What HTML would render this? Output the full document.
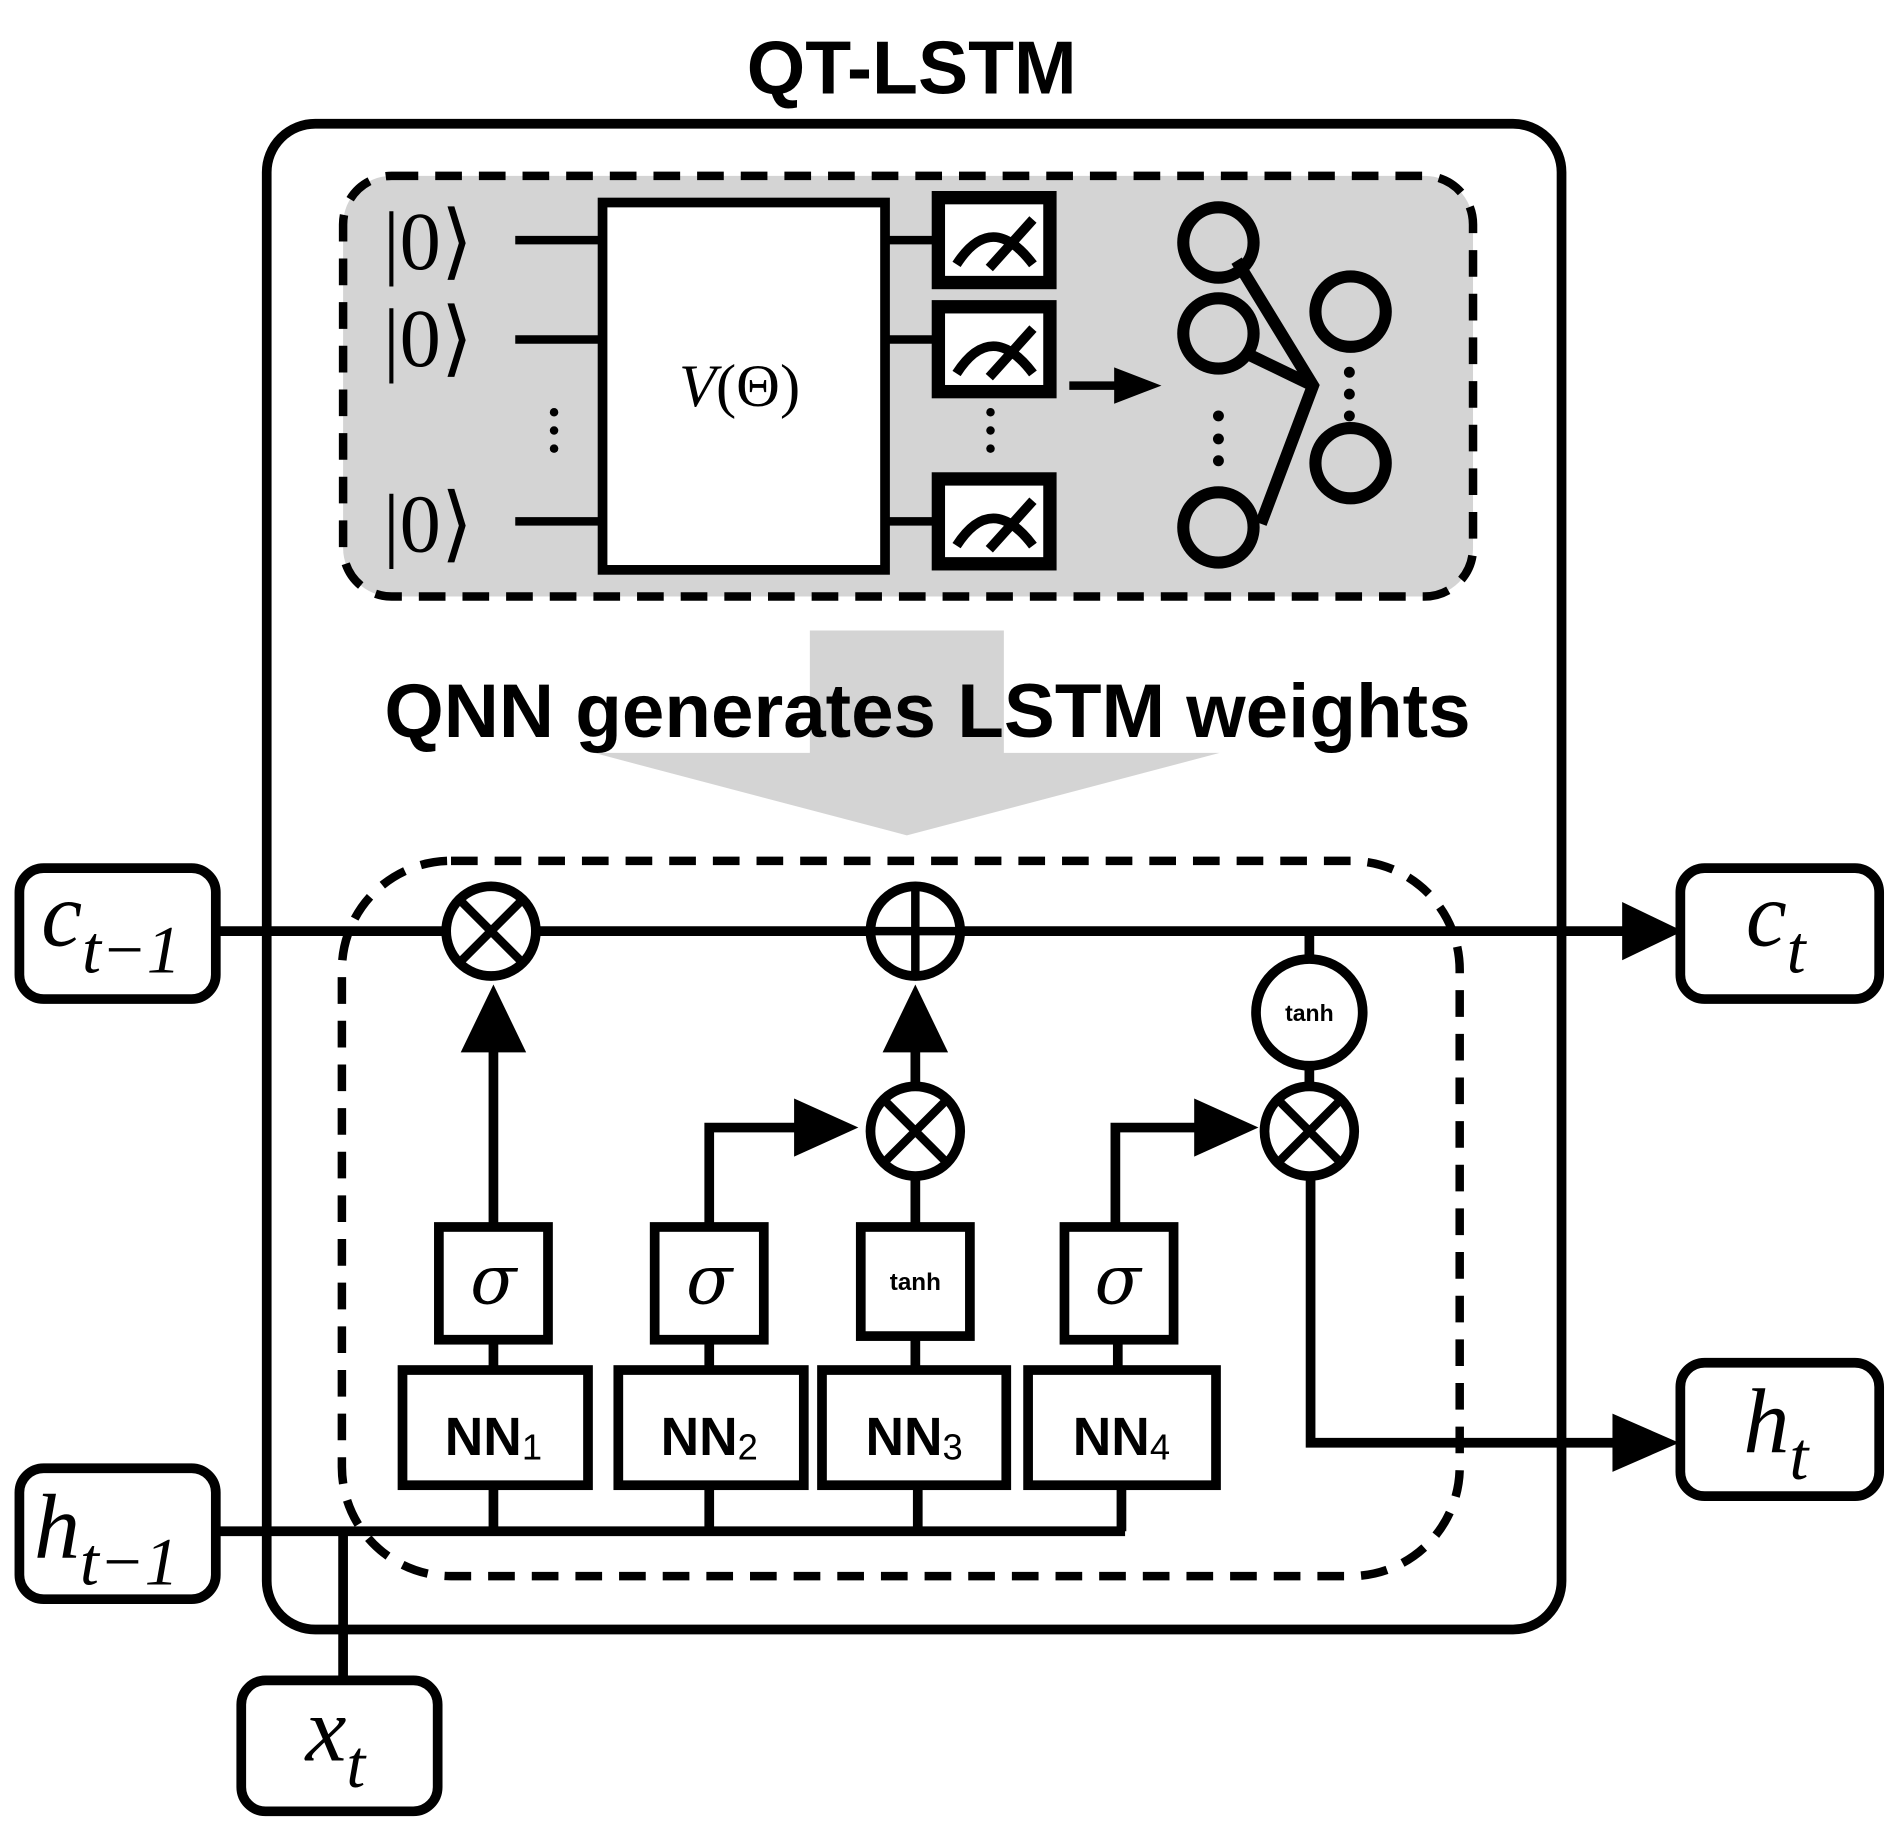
<!DOCTYPE html>
<html><head><style>html,body{margin:0;padding:0;background:#fff}svg{display:block}</style></head><body>
<svg width="1901" height="1832" viewBox="0 0 1568 1511" xmlns="http://www.w3.org/2000/svg">
<defs>
<g id="meter"><rect x="0" y="0" width="92" height="70" fill="#fff" stroke="#000" stroke-width="11"/>
<path d="M15 55 Q44 10 78 55" fill="none" stroke="#000" stroke-width="8"/>
<path d="M42 58 L78 18" stroke="#000" stroke-width="8"/></g>
</defs>
<text x="752" y="77" text-anchor="middle" font-family="Liberation Sans, sans-serif" font-weight="bold" font-size="62">QT-LSTM</text>
<rect x="220" y="102" width="1068" height="1242" rx="40" fill="none" stroke="#000" stroke-width="8"/>
<rect x="283" y="145" width="932" height="347" rx="40" fill="#d4d4d4" stroke="#000" stroke-width="7" stroke-dasharray="22,14"/>
<g font-family="Liberation Serif, serif" font-size="68">
<text x="316" y="222">|0⟩</text><text x="316" y="302">|0⟩</text><text x="316" y="455">|0⟩</text></g>
<g stroke="#000" stroke-width="7">
<line x1="425" y1="198" x2="495" y2="198"/><line x1="425" y1="280" x2="495" y2="280"/><line x1="425" y1="430" x2="495" y2="430"/>
<line x1="730" y1="198" x2="775" y2="198"/><line x1="730" y1="280" x2="775" y2="280"/><line x1="730" y1="430" x2="775" y2="430"/>
</g>
<rect x="497" y="167" width="233" height="303" fill="#fff" stroke="#000" stroke-width="8"/>
<text x="610" y="335" text-anchor="middle" font-family="Liberation Serif, serif" font-size="50"><tspan font-style="italic">V</tspan>(Θ)</text>
<use href="#meter" x="774" y="163"/><use href="#meter" x="774" y="253"/><use href="#meter" x="774" y="395"/>
<g fill="#000"><circle cx="457" cy="340" r="3.5"/><circle cx="457" cy="355" r="3.5"/><circle cx="457" cy="370" r="3.5"/>
<circle cx="817" cy="340" r="3.5"/><circle cx="817" cy="355" r="3.5"/><circle cx="817" cy="370" r="3.5"/>
<circle cx="1005" cy="343" r="4.5"/><circle cx="1005" cy="362" r="4.5"/><circle cx="1005" cy="380" r="4.5"/>
<circle cx="1113" cy="307" r="4.5"/><circle cx="1113" cy="325" r="4.5"/><circle cx="1113" cy="343" r="4.5"/></g>
<line x1="882" y1="318" x2="920" y2="318" stroke="#000" stroke-width="7"/>
<polygon points="919,303 958,318 919,333" fill="#000"/>
<g fill="none" stroke="#000" stroke-width="10">
<path d="M1020 215 L1083 318 L1040 432"/><path d="M1025 290 L1083 318"/>
<circle cx="1005" cy="200" r="29"/><circle cx="1005" cy="275" r="29"/><circle cx="1005" cy="435" r="29"/>
<circle cx="1114" cy="257" r="29"/><circle cx="1114" cy="382" r="29"/></g>
<rect x="668" y="520" width="160" height="102" fill="#d4d4d4"/>
<polygon points="490,621 1006,621 748,689" fill="#d4d4d4"/>
<text x="765" y="608" text-anchor="middle" font-family="Liberation Sans, sans-serif" font-weight="bold" font-size="63">QNN generates LSTM weights</text>
<rect x="282" y="710" width="922" height="590" rx="90" fill="none" stroke="#000" stroke-width="7" stroke-dasharray="22,14"/>
<g fill="none" stroke="#000" stroke-width="8">
<line x1="180" y1="768" x2="1345" y2="768"/>
<line x1="180" y1="1263" x2="928" y2="1263"/>
<line x1="283" y1="1263" x2="283" y2="1385"/>
<line x1="407" y1="1225" x2="407" y2="1263"/><line x1="585" y1="1225" x2="585" y2="1263"/><line x1="757" y1="1225" x2="757" y2="1263"/><line x1="925" y1="1225" x2="925" y2="1263"/>
<line x1="407" y1="1105" x2="407" y2="1128"/><line x1="585" y1="1105" x2="585" y2="1128"/><line x1="755" y1="1100" x2="755" y2="1128"/><line x1="922" y1="1105" x2="922" y2="1128"/>
<line x1="407" y1="1010" x2="407" y2="860"/>
<path d="M585 1010 L585 930 L665 930"/>
<path d="M920 1010 L920 930 L995 930"/>
<line x1="755" y1="1010" x2="755" y2="970"/>
<line x1="755" y1="895" x2="755" y2="860"/>
<line x1="1080" y1="768" x2="1080" y2="792"/>
<line x1="1080" y1="878" x2="1080" y2="896"/>
<path d="M1081 970 L1081 1190 L1340 1190"/>
</g>
<g fill="#000">
<polygon points="380,868 434,868 407,812"/>
<polygon points="728,868 782,868 755,812"/>
<polygon points="655,906 708,930 655,954"/>
<polygon points="985,906 1038,930 985,954"/>
<polygon points="1338,744 1388,768 1338,792"/>
<polygon points="1330,1166 1385,1190 1330,1214"/>
</g>
<g fill="#fff" stroke="#000" stroke-width="8">
<circle cx="405" cy="768" r="37"/><circle cx="755" cy="768" r="37"/><circle cx="755" cy="933" r="37"/><circle cx="1080" cy="933" r="37"/><circle cx="1080" cy="835" r="44"/>
</g>
<g stroke="#000" stroke-width="7">
<path d="M379 742 L431 794 M431 742 L379 794"/>
<path d="M755 731 L755 805 M718 768 L792 768"/>
<path d="M729 907 L781 959 M781 907 L729 959"/>
<path d="M1054 907 L1106 959 M1106 907 L1054 959"/>
</g>
<text x="1080" y="842" text-anchor="middle" font-family="Liberation Sans, sans-serif" font-weight="bold" font-size="19">tanh</text>
<g fill="#fff" stroke="#000" stroke-width="8">
<rect x="362" y="1012" width="90" height="93"/><rect x="540" y="1012" width="90" height="93"/><rect x="710" y="1012" width="90" height="90"/><rect x="878" y="1012" width="90" height="93"/>
<rect x="332" y="1130" width="153" height="95"/><rect x="510" y="1130" width="153" height="95"/><rect x="678" y="1130" width="152" height="95"/><rect x="848" y="1130" width="155" height="95"/>
</g>
<g font-family="DejaVu Serif, serif" font-style="italic" font-size="56" text-anchor="middle">
<text x="407" y="1075">σ</text><text x="585" y="1075">σ</text><text x="922" y="1075">σ</text></g>
<text x="755" y="1064" text-anchor="middle" font-family="Liberation Sans, sans-serif" font-weight="bold" font-size="20">tanh</text>
<g font-family="Liberation Sans, sans-serif" font-weight="bold" font-size="44" text-anchor="middle">
<text x="407" y="1200">NN<tspan font-size="30" font-weight="normal" dy="4">1</tspan></text>
<text x="585" y="1200">NN<tspan font-size="30" font-weight="normal" dy="4">2</tspan></text>
<text x="754" y="1200">NN<tspan font-size="30" font-weight="normal" dy="4">3</tspan></text>
<text x="925" y="1200">NN<tspan font-size="30" font-weight="normal" dy="4">4</tspan></text></g>
<g fill="#fff" stroke="#000" stroke-width="8">
<rect x="16" y="716" width="162" height="108" rx="20"/><rect x="16" y="1211" width="162" height="108" rx="20"/>
<rect x="199" y="1386" width="162" height="108" rx="20"/>
<rect x="1386" y="716" width="164" height="108" rx="20"/><rect x="1386" y="1124" width="164" height="110" rx="20"/>
</g>
<g font-family="Liberation Serif, serif" font-style="italic" font-size="76">
<text x="34" y="780">c<tspan font-size="56" dy="22">t−1</tspan></text>
<text x="28" y="1285">h<tspan font-size="56" dy="22">t−1</tspan></text>
<text x="252" y="1452">x<tspan font-size="56" dy="22">t</tspan></text>
<text x="1440" y="780">c<tspan font-size="56" dy="22">t</tspan></text>
<text x="1438" y="1198">h<tspan font-size="56" dy="22">t</tspan></text>
</g>
</svg>
</body></html>
